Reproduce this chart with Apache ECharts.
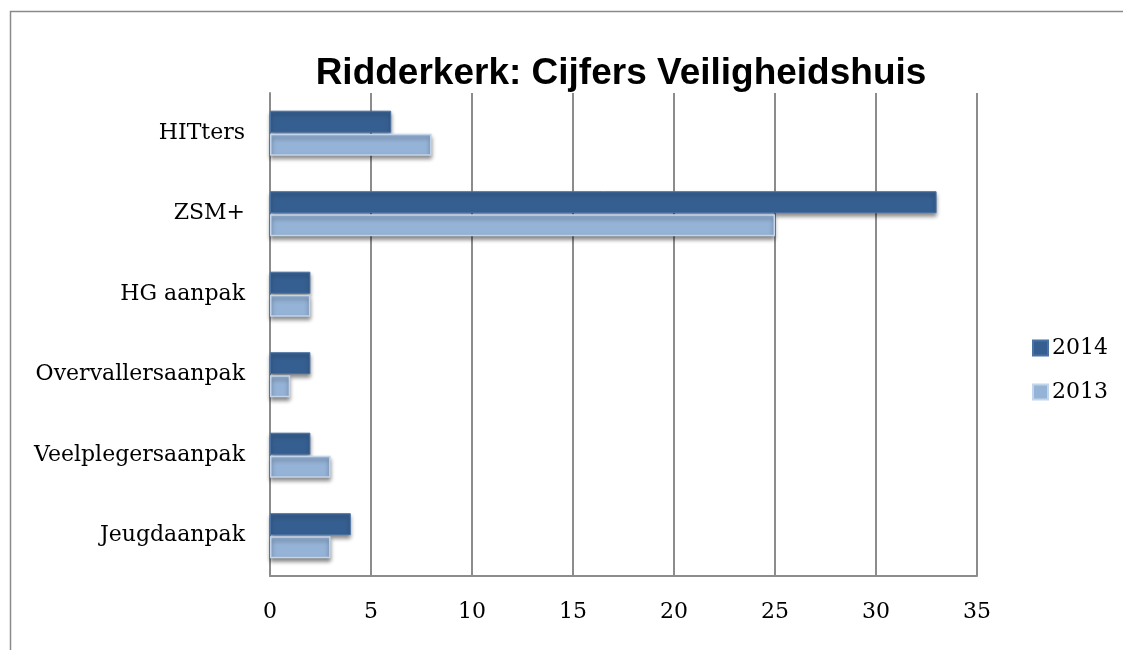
<!DOCTYPE html>
<html><head><meta charset="utf-8">
<script src="https://cdn.jsdelivr.net/npm/echarts@6/dist/echarts.min.js"></script>
<style>html,body{margin:0;padding:0;background:#fff}#c{width:1123px;height:650px}</style>
</head><body><div id="c"></div>
<script>
const title = 'Ridderkerk: Cijfers Veiligheidshuis';
const categories = ['HITters', 'ZSM+', 'HG aanpak', 'Overvallersaanpak', 'Veelplegersaanpak', 'Jeugdaanpak'];
const seriesNames = ['2014', '2013'];
const values2014 = [6, 33, 2, 2, 2, 4];
const values2013 = [8, 25, 2, 1, 3, 3];
const xTicks = [0, 5, 10, 15, 20, 25, 30, 35];

const serif = '"DejaVu Serif", "Liberation Serif", serif';
const chart = echarts.init(document.getElementById('c'), null, {renderer: 'canvas'});
const shadow = {shadowBlur: 4, shadowOffsetY: 3, shadowOffsetX: 0, shadowColor: 'rgba(0,0,0,0.45)'};
chart.setOption({
  animation: false,
  backgroundColor: '#fff',
  graphic: [{type: 'rect', shape: {x: 10.5, y: 11.5, width: 1200, height: 700}, style: {fill: 'none', stroke: '#8a8a8a', lineWidth: 1.5}, silent: true}],
  title: {text: title, left: 616, top: 50, textAlign: 'center',
    textStyle: {fontFamily: '"Liberation Sans", Arial, sans-serif', fontWeight: 'bold', fontSize: 37, color: '#000'}},
  legend: {orient: 'vertical', left: 1027, top: 332, itemGap: 22, itemWidth: 15, itemHeight: 15,
    icon: 'rect', data: seriesNames,
    textStyle: {fontFamily: serif, fontSize: 22, color: '#000', padding: [0,0,0,-1]}},
  grid: {left: 270, right: 146, top: 93, bottom: 74},
  xAxis: {type: 'value', min: 0, max: 35, interval: 5,
    axisLine: {show: true, lineStyle: {color: '#8c8c8c', width: 2}},
    axisTick: {show: false},
    splitLine: {show: true, lineStyle: {color: '#8c8c8c', width: 2}},
    axisLabel: {margin: 25, fontFamily: serif, fontSize: 22, color: '#000',
      formatter: v => xTicks.includes(v) ? String(v) : ''}},
  yAxis: {type: 'category', data: categories, inverse: true,
    axisLine: {show: true, lineStyle: {color: '#8c8c8c', width: 2}},
    axisTick: {show: false},
    axisLabel: {margin: 25, fontFamily: serif, fontSize: 22, color: '#000'}},
  series: [
    {name: seriesNames[0], type: 'bar', data: values2014, barWidth: 22, barGap: '5%', barCategoryGap: '43%',
      itemStyle: Object.assign({color: '#365f91', borderColor: '#4a72a3', borderWidth: 1}, shadow)},
    {name: seriesNames[1], type: 'bar', data: values2013, barWidth: 22,
      itemStyle: Object.assign({color: '#95b3d7', borderColor: '#c3d5ea', borderWidth: 1.5}, shadow)}
  ]
});
</script></body></html>
